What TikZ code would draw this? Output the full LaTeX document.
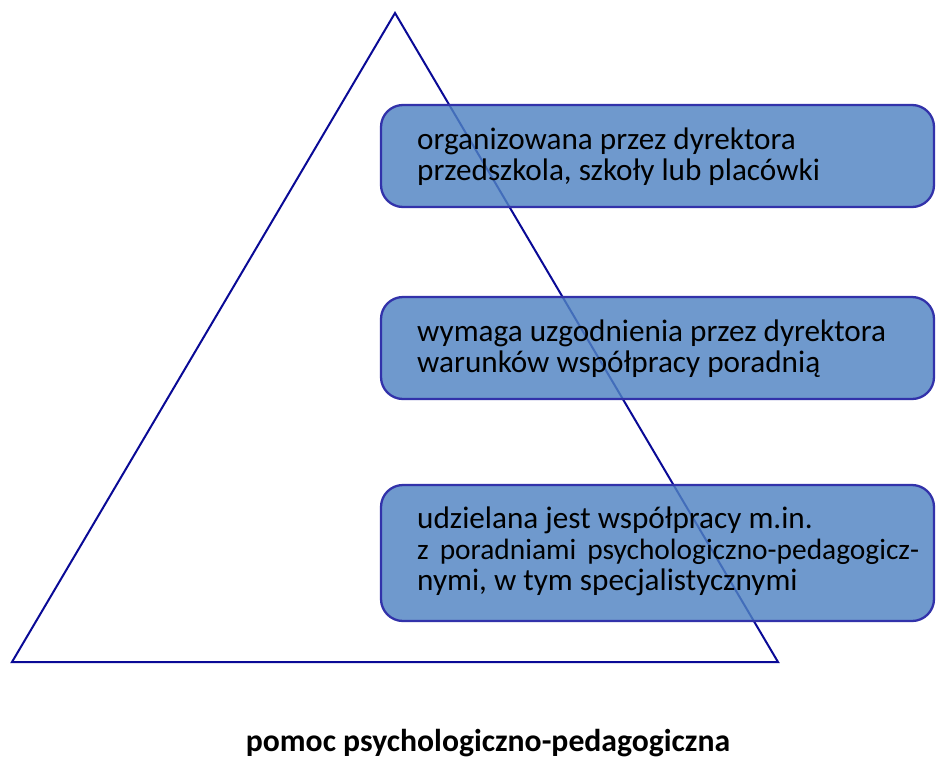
\documentclass[tikz,border=0pt]{standalone}
\usepackage{fontspec}
\setmainfont{Carlito}
\definecolor{boxfill}{RGB}{79,131,194}
\definecolor{boxline}{RGB}{50,50,170}
\definecolor{trline}{RGB}{10,10,150}
\tikzset{
  infobox/.style={draw=boxline, line width=2.3pt, fill=boxfill, fill opacity=0.82, rounded corners=22pt},
  boxtext/.style={anchor=base west, inner sep=0pt, font=\fontsize{31.2}{31.2}\selectfont, text=black},
}
\begin{document}
\begin{tikzpicture}[x=1pt,y=-1pt]
\useasboundingbox (0,0) rectangle (936,758);
\coordinate (apex) at (395,13);
\coordinate (bl) at (12,662);
\coordinate (br) at (778,662);
\draw[trline, line width=2pt, line join=miter] (apex) -- (br) -- (bl) -- cycle;
\path[infobox] (381,105) rectangle (934,207);
\path[infobox] (381,297) rectangle (934,399);
\path[infobox] (381,485) rectangle (934,621);
\node[boxtext] (t1a) at (417,149) {organizowana przez dyrektora};
\node[boxtext] (t1b) at (417,180) {przedszkola, szkoły lub placówki};
\node[boxtext] (t2a) at (417,341) {wymaga uzgodnienia przez dyrektora};
\node[boxtext] (t2b) at (417,372) {warunków współpracy poradnią};
\node[boxtext] (t3a) at (417,528) {udzielana jest współpracy m.in.};
\node[boxtext, font=\fontsize{29.4}{29.4}\selectfont] (t3b) at (417,559) {\makebox[502pt][s]{z poradniami psychologiczno-pedagogicz-}};
\node[boxtext] (t3c) at (417,590) {nymi, w tym specjalistycznymi};
\node[anchor=base, inner sep=0pt, font=\bfseries\fontsize{31.7}{31.7}\selectfont] (cap) at (488,751) {pomoc psychologiczno-pedagogiczna};
\end{tikzpicture}
\end{document}
